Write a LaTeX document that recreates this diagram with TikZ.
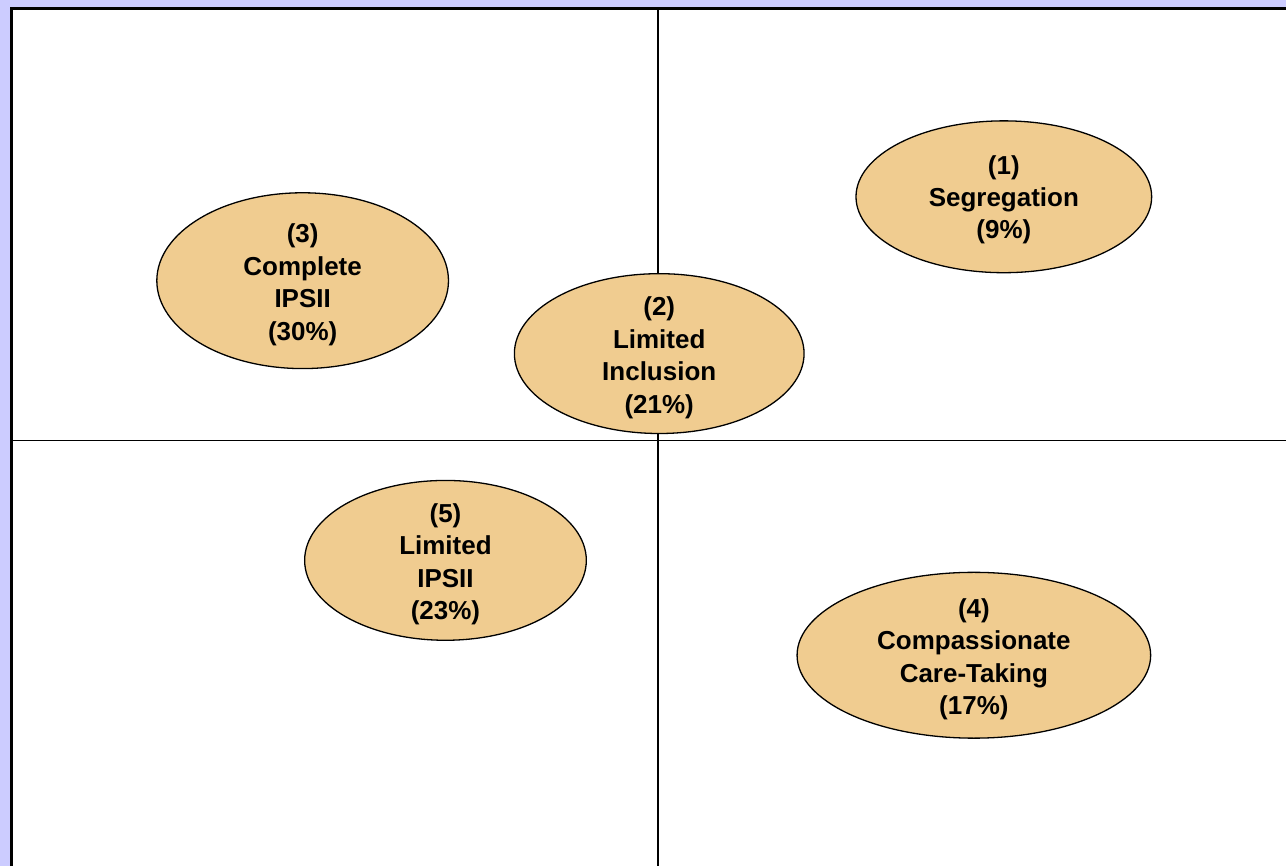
\documentclass[tikz,border=0pt]{standalone}
\usepackage{fontspec}
\setmainfont{Liberation Sans}
\definecolor{lavender}{RGB}{204,204,255}
\definecolor{tan}{RGB}{240,204,144}
\begin{document}
\begin{tikzpicture}[x=1pt,y=-1pt,
  blob/.style={draw,line width=1.3pt,fill=tan},
  group/.style={inner sep=0pt,align=center,font=\fontsize{26}{32.5}\selectfont\bfseries}]
\fill[lavender] (0,0) rectangle (1287,867);
\fill[white] (10,7) rectangle (1287,867);
\draw[line width=3pt] (11.5,867)--(11.5,8.5)--(1287,8.5);
\draw[line width=1.6pt] (11,441)--(1287,441); \draw[line width=1.6pt] (659,9)--(659,867);
\filldraw[blob] (1005,197) ellipse [x radius=148,y radius=76];
\filldraw[blob] (303,281) ellipse [x radius=146,y radius=88];
\filldraw[blob] (660,354) ellipse [x radius=145,y radius=80];
\filldraw[blob] (446,561) ellipse [x radius=141,y radius=80];
\filldraw[blob] (975,656) ellipse [x radius=177,y radius=83];
\node[group] (seg) at (1005,200) {(1)\\Segregation\\(9\%)};
\node[group] (ipsii) at (303,285) {(3)\\Complete\\IPSII\\(30\%)};
\node[group] (limincl) at (660,358) {(2)\\Limited\\Inclusion\\(21\%)};
\node[group] (limipsii) at (446,565) {(5)\\Limited\\IPSII\\(23\%)};
\node[group] (care) at (975,660) {(4)\\Compassionate\\Care-Taking\\(17\%)};
\end{tikzpicture}
\end{document}
